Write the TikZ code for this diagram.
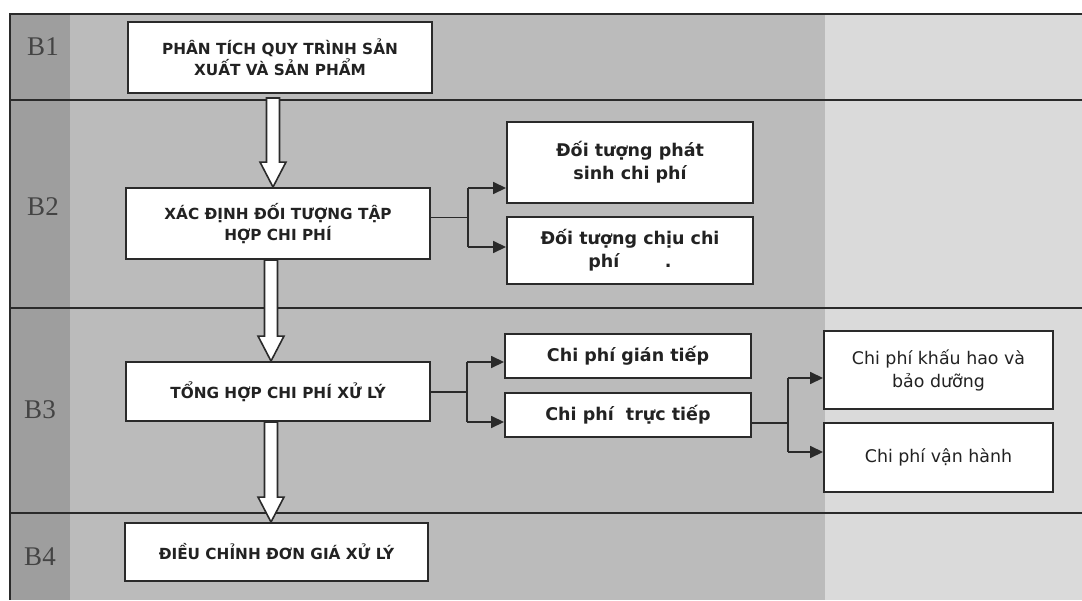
\documentclass[tikz,border=0pt]{standalone}
\usepackage{fontspec}
\setmainfont{DejaVu Sans}
\newfontfamily\lanefont{Liberation Serif}
\usetikzlibrary{arrows.meta,calc}
\definecolor{stripc}{HTML}{9E9E9E}
\definecolor{midc}{HTML}{BBBBBB}
\definecolor{rightc}{HTML}{DADADA}
\definecolor{linec}{HTML}{2A2A2A}
\definecolor{textc}{HTML}{222222}
\definecolor{labc}{HTML}{444444}
\newcommand\blockarr[2]{\draw[blk] let \p1=#1, \p2=#2 in
  (\x1-6.5pt,\y1) -- (\x1-6.5pt,\y2+25pt) -- (\x1-13pt,\y2+25pt) -- (\x1,\y2)
  -- (\x1+13pt,\y2+25pt) -- (\x1+6.5pt,\y2+25pt) -- (\x1+6.5pt,\y1) -- cycle;}
\begin{document}
\begin{tikzpicture}[x=1pt,y=-1pt,
  box/.style={draw=linec,line width=1.9pt,fill=white,inner sep=0pt,align=center,text=textc},
  capsbox/.style={box,font=\bfseries\fontsize{15.3}{21}\selectfont},
  lowbox/.style={box,font=\bfseries\fontsize{17.5}{23}\selectfont},
  regbox/.style={box,font=\fontsize{17.4}{23}\selectfont},
  line/.style={draw=linec,line width=1.6pt},
  conn/.style={line,-{Triangle[length=13pt,width=12pt]}},
  blk/.style={draw=linec,line width=1.6pt,fill=white,line join=miter},
  lane/.style={font=\lanefont\fontsize{27}{27}\selectfont,text=labc},
  frame/.style={draw=linec,line width=1.4pt}
]
\useasboundingbox (0,0) rectangle (1082,600);
% background
\fill[white] (0,0) rectangle (1082,600);
\fill[midc] (10,14) rectangle (825,600);
\fill[rightc] (825,14) rectangle (1082,600);
\fill[stripc] (10,14) rectangle (70,600);
\draw[frame] (1082,14) -- (10,14) -- (10,600);
\draw[frame] (10,100) -- (1082,100);
\draw[frame] (10,308) -- (1082,308);
\draw[frame] (10,513) -- (1082,513);
% lane labels
\node[lane] (l1) at (43,47) {B1};
\node[lane] (l2) at (43,207) {B2};
\node[lane] (l3) at (40,410) {B3};
\node[lane] (l4) at (40,557) {B4};
% boxes
\node[capsbox,minimum width=304pt,minimum height=71pt] (b1) at (280,57.5) {PHÂN TÍCH QUY TRÌNH SẢN\\XUẤT VÀ SẢN PHẨM};
\node[capsbox,minimum width=304pt,minimum height=71pt] (b2) at (278,223.5) {XÁC ĐỊNH ĐỐI TƯỢNG TẬP\\HỢP CHI PHÍ};
\node[capsbox,minimum width=304pt,minimum height=59pt] (b3) at (278,391.5) {TỔNG HỢP CHI PHÍ XỬ LÝ};
\node[capsbox,minimum width=303pt,minimum height=58pt] (b4) at (276.5,552) {ĐIỀU CHỈNH ĐƠN GIÁ XỬ LÝ};
\node[lowbox,minimum width=246pt,minimum height=81pt] (dtps) at (630,162.5) {Đối tượng phát\\sinh chi phí};
\node[lowbox,minimum width=246pt,minimum height=67pt] (dtcc) at (630,250.5) {Đối tượng chịu chi\\phí\hspace{2.6em}.};
\node[lowbox,minimum width=246pt,minimum height=44pt] (gt) at (628,356) {Chi phí gián tiếp};
\node[lowbox,minimum width=246pt,minimum height=44pt] (tt) at (628,415) {Chi phí\ \ trực tiếp};
\node[regbox,minimum width=229pt,minimum height=78pt] (kh) at (938.5,370) {Chi phí khấu hao và\\bảo dưỡng};
\node[regbox,minimum width=229pt,minimum height=69pt] (vh) at (938.5,457.5) {Chi phí vận hành};
% block arrows
\blockarr{([xshift=-7pt,yshift=-4pt]b1.south)}{(b2.north)}
\blockarr{([xshift=-7pt]b2.south)}{(b3.north)}
\blockarr{([xshift=-7pt]b3.south)}{(b4.north)}
% branch connectors
\coordinate (s1) at (468,217.5);
\coordinate (s1a) at (468,188);
\coordinate (s1b) at (468,247);
\draw[line] (b2.east |- s1) -- (s1);
\draw[line] (s1a) -- (s1b);
\draw[conn] (s1a) -- (dtps.west |- s1a);
\draw[conn] (s1b) -- (dtcc.west |- s1b);
\coordinate (s2) at (467,392);
\coordinate (s2a) at (467,362);
\coordinate (s2b) at (467,422);
\draw[line] (b3.east |- s2) -- (s2);
\draw[line] (s2a) -- (s2b);
\draw[conn] (s2a) -- (gt.west |- s2a);
\draw[conn] (s2b) -- (tt.west |- s2b);
\coordinate (s3) at (788,423);
\coordinate (s3a) at (788,378);
\coordinate (s3b) at (788,452);
\draw[line] (tt.east |- s3) -- (s3);
\draw[line] (s3a) -- (s3b);
\draw[conn] (s3a) -- (kh.west |- s3a);
\draw[conn] (s3b) -- (vh.west |- s3b);
\end{tikzpicture}
\end{document}
